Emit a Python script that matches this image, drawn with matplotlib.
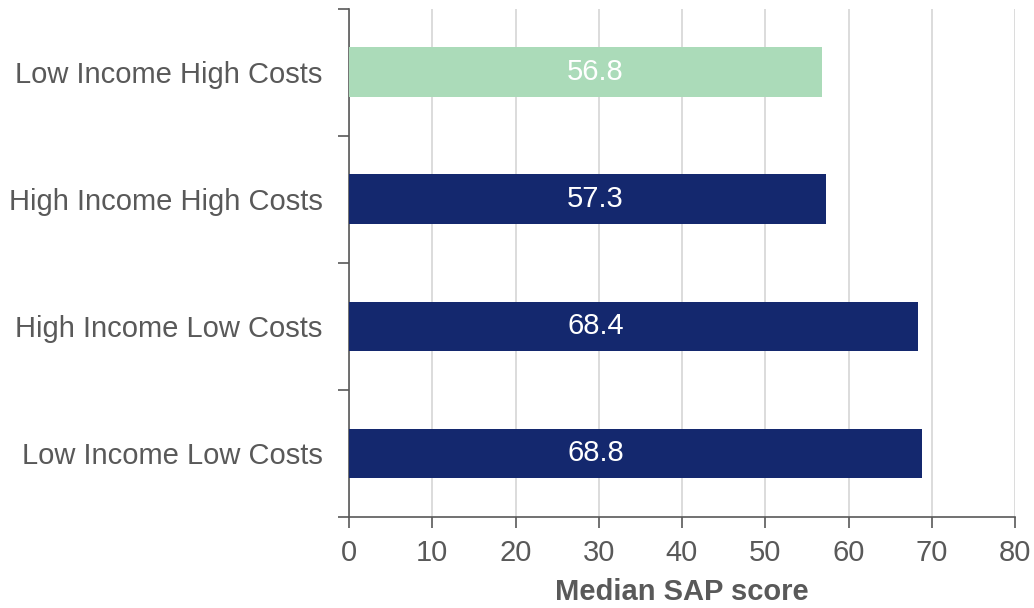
import numpy as np
import matplotlib
matplotlib.use("Agg")
from matplotlib import pyplot as plt

plt.rcParams['font.family'] = ['Liberation Sans', 'DejaVu Sans']

categories = ["Low Income High Costs", "High Income High Costs",
              "High Income Low Costs", "Low Income Low Costs"]
values = [56.8, 57.3, 68.4, 68.8]
colors = ["#abdbb9", "#14286e", "#14286e", "#14286e"]
label_x = 29.6

grey = "#595959"

fig = plt.figure(figsize=(10.34, 6.08), dpi=100)
ax = fig.add_axes([349/1034, 1-517/608, (1015-349)/1034, (517-8.5)/608])

y = np.arange(len(categories))
ax.barh(y, values, height=0.39, color=colors, zorder=3)
for yi, v in zip(y, values):
    ax.text(label_x, yi, f"{v:.1f}", color="white", fontsize=21,
            ha="center", va="center", zorder=4)

ax.set_ylim(len(categories) - 0.5, -0.5)
ax.set_xlim(0, 80)
ax.set_xticks(np.arange(0, 81, 10))
ax.set_yticks(y)
ax.set_yticklabels(categories)
ax.set_yticks(np.arange(-0.5, len(categories), 1), minor=True)
ax.tick_params(axis='y', which='major', length=0, pad=19, labelsize=21, labelcolor=grey)
ax.tick_params(axis='y', which='minor', length=8, color=grey, width=1.2)
ax.tick_params(axis='x', length=8, color=grey, width=1.2, labelsize=21,
               labelcolor=grey, pad=8)

ax.grid(axis='x', color="#d9d9d9", linewidth=1.3, zorder=0)
for s in ['top', 'right']:
    ax.spines[s].set_visible(False)
for s in ['left', 'bottom']:
    ax.spines[s].set_color(grey)
    ax.spines[s].set_linewidth(1.2)

ax.set_xlabel("Median SAP score", fontsize=21, fontweight='bold', color=grey, labelpad=8)

fig.savefig("out.png", dpi=100)
